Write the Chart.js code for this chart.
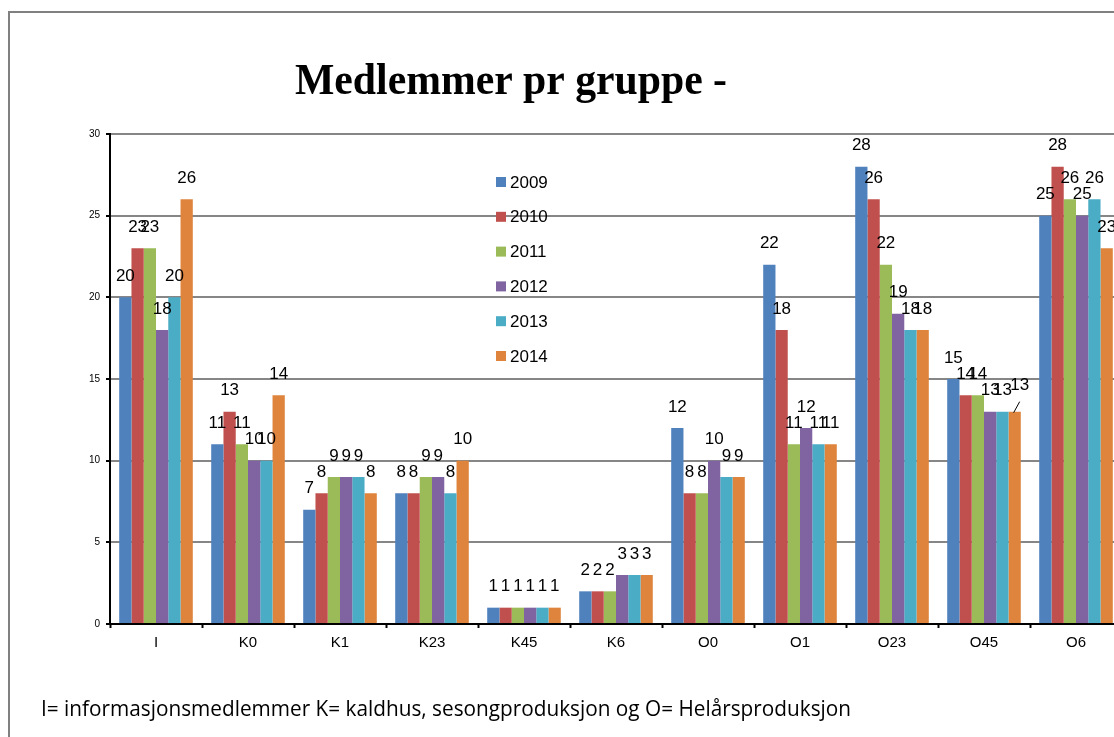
<!DOCTYPE html>
<html><head><meta charset="utf-8">
<script src="https://cdn.jsdelivr.net/npm/chart.js@4.4.1/dist/chart.umd.min.js"></script>
<style>
html,body{margin:0;padding:0;overflow:hidden;background:#fff;width:1114px;height:737px}
#wrap{position:absolute;left:0;top:0;width:1140px;height:737px}
</style></head><body>
<div id="wrap"><canvas id="c" width="1140" height="737"></canvas></div>
<script>
const categories = ['I','K0','K1','K23','K45','K6','O0','O1','O23','O45','O6'];
const years = ['2009','2010','2011','2012','2013','2014'];
const v2009 = [20,11,7,8,1,2,12,22,28,15,25];
const v2010 = [23,13,8,8,1,2,8,18,26,14,28];
const v2011 = [23,11,9,9,1,2,8,11,22,14,26];
const v2012 = [18,10,9,9,1,3,10,12,19,13,25];
const v2013 = [20,10,9,8,1,3,9,11,18,13,26];
const v2014 = [26,14,8,10,1,3,9,11,18,13,23];
const yTicks = [0,5,10,15,20,25,30];
const titleText = 'Medlemmer pr gruppe -';
const footnoteText = 'I= informasjonsmedlemmer K= kaldhus, sesongproduksjon og O= Helårsproduksjon';

const seriesValues = [v2009, v2010, v2011, v2012, v2013, v2014];
const colors = ['#4F81BD','#C0504D','#9BBB59','#8064A2','#4BACC6','#DE843D'];

const decorPlugin = {
  id: 'decor',
  afterDatasetsDraw(chart) {
    const ctx = chart.ctx;
    ctx.save();
    // data labels
    ctx.font = '17px "Liberation Sans", Arial, sans-serif';
    ctx.fillStyle = '#000';
    ctx.textAlign = 'center';
    ctx.textBaseline = 'middle';
    chart.data.datasets.forEach((ds, di) => {
      const meta = chart.getDatasetMeta(di);
      meta.data.forEach((el, i) => {
        let x = el.x, y = el.y - 21;
        if (di === 5 && i === 9) {
          x = el.x + 5; y = el.y - 26;
          ctx.save();
          ctx.strokeStyle = '#000'; ctx.lineWidth = 1;
          ctx.beginPath(); ctx.moveTo(el.x - 1, el.y + 1); ctx.lineTo(el.x + 5, el.y - 10); ctx.stroke();
          ctx.restore();
        }
        ctx.fillText(String(ds.data[i]), x, y);
      });
    });
    // legend inside plot
    const ca = chart.chartArea;
    const lx = ca.left + 386, ly = ca.top + 48, step = 34.8;
    ctx.textAlign = 'left';
    chart.data.datasets.forEach((ds, di) => {
      const cy = ly + di * step;
      ctx.fillStyle = ds.backgroundColor;
      ctx.fillRect(lx, cy - 5, 10, 10);
      ctx.fillStyle = '#000';
      ctx.fillText(ds.label, lx + 14, cy + 1);
    });
    ctx.restore();
  },
  afterDraw(chart) {
    const ctx = chart.ctx;
    ctx.save();
    // title
    ctx.fillStyle = '#000';
    ctx.font = 'bold 44px "Liberation Serif", "Times New Roman", serif';
    ctx.textAlign = 'center';
    ctx.textBaseline = 'alphabetic';
    ctx.fillText(titleText, 511, 94, 432);
    // footnote
    ctx.font = '22px "Open Sans", sans-serif';
    ctx.textAlign = 'left';
    ctx.fillText(footnoteText, 41, 716, 810);
    // frame
    ctx.strokeStyle = '#808080';
    ctx.lineWidth = 2;
    ctx.beginPath();
    ctx.moveTo(9, 800); ctx.lineTo(9, 12); ctx.lineTo(1200, 12);
    ctx.stroke();
    ctx.restore();
  }
};

new Chart(document.getElementById('c'), {
  type: 'bar',
  data: {
    labels: categories,
    datasets: years.map((y, i) => ({
      label: y,
      data: seriesValues[i],
      backgroundColor: colors[i],
      borderWidth: 0,
      categoryPercentage: 0.8,
      barPercentage: 1.0
    }))
  },
  options: {
    responsive: false,
    animation: false,
    devicePixelRatio: 1,
    layout: { padding: { top: 134, right: 18, left: 0, bottom: 0 } },
    plugins: { legend: { display: false }, title: { display: false }, tooltip: { enabled: false } },
    scales: {
      x: {
        grid: { offset: true, drawOnChartArea: false, drawTicks: true, tickLength: 4, tickColor: '#000', tickWidth: 2 },
        border: { color: '#000', width: 2 },
        ticks: { font: { family: '"Liberation Sans", Arial, sans-serif', size: 15 }, color: '#000', padding: 6, maxRotation: 0, autoSkip: false },
        afterFit(s) { s.height = 113; }
      },
      y: {
        min: 0, max: 30,
        grid: { color: '#868686', lineWidth: 2, tickColor: '#000', tickLength: 4, tickWidth: 2 },
        border: { color: '#000', width: 2 },
        ticks: { font: { family: '"Liberation Sans", Arial, sans-serif', size: 10 }, color: '#000', padding: 6 },
        afterBuildTicks(s) { s.ticks = yTicks.map(v => ({ value: v })); },
        afterFit(s) { s.width = 110; }
      }
    }
  },
  plugins: [decorPlugin]
});
</script>
</body></html>
